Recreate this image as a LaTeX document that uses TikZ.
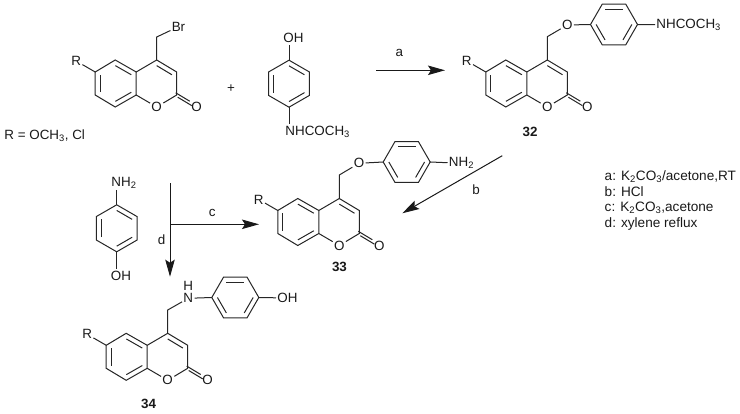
\documentclass[tikz,border=0pt]{standalone}
\usepackage{fontspec}
\setmainfont{Liberation Sans}
\usetikzlibrary{arrows.meta,calc}

\tikzset{
    bond/.style={line width=1pt, black!85},
    atom/.style={inner sep=1.2pt, text=black!90, font=\fontsize{13.4}{15}\selectfont},
    legendtext/.style={inner sep=0pt, anchor=west, text=black!90, font=\fontsize{13.6}{15}\selectfont},
    cmpd/.style={inner sep=1pt, text=black!90, font=\fontsize{13.4}{15}\selectfont\bfseries},
    rxn/.style={line width=1pt, black!90, -{Stealth[length=17pt,width=9.5pt,inset=3pt]}}
}

% benzene ring: name, centre x, centre y, start angle
\newcommand{\phring}[4]{
    \coordinate (#1c) at (#2,#3);
    \foreach \i in {1,...,6}
        \coordinate (#1\i) at ($(#1c)+({#4+60*\i}:23.5)$);
    \draw[bond] (#11) -- (#12) -- (#13) -- (#14) -- (#15) -- (#16) -- cycle;
    % inner lines
    \foreach \a/\b in {1/2, 3/4, 5/6}
        \draw[bond] ($(#1\a)!.24!(#1c)$) -- ($(#1\b)!.24!(#1c)$);
}

% coumarin skeleton, placed by its C4
\newcommand{\coumarin}[3]{
    \begin{scope}[shift={(#2,#3)}]
        \coordinate (#1cf) at (0,0);
        \coordinate (#1cc) at (20,12);
        \coordinate (#1cb) at (20,35);
        \coordinate (#1ca) at (-20.5,12);
        \coordinate (#1cd) at (-20.5,35);
        \coordinate (#1ce) at (-41.5,47);
        \coordinate (#1cg) at (-61.5,35);
        \coordinate (#1ch) at (-61.5,12);
        \coordinate (#1ci) at (-41.5,0);
        \coordinate (#1bz) at (-41,23.5);
        \coordinate (#1py) at (0,23.5);
        \node[atom] (#1o) at (0,47) {O};
        \node[atom] (#1oc) at (40,47) {O};
        \node[atom] (#1r) at (-80.5,1) {R};
    \end{scope}
    \draw[bond] (#1cf) -- (#1cc) -- (#1cb) -- (#1o) -- (#1cd) -- (#1ca) -- (#1cf);
    \draw[bond] (#1cd) -- (#1ce) -- (#1cg) -- (#1ch) -- (#1ci) -- (#1ca);
    \draw[bond] (#1ch) -- (#1r);
    % inner lines
    \foreach \a/\b/\c in {cg/ch/bz, ci/ca/bz, ce/cd/bz, cf/cc/py}
        \draw[bond] ($(#1\a)!.24!(#1\c)$) -- ($(#1\b)!.24!(#1\c)$);
    % carbonyl
    \draw[bond] ($(#1cb)+(-1,-2.2)$) -- ($(#1oc.center)!.3!(#1cb)+(-1,-2.2)$);
    \draw[bond] ($(#1cb)+(1,2.2)$) -- ($(#1oc.center)!.3!(#1cb)+(1,2.2)$);
}

\begin{document}
\begin{tikzpicture}[x=1pt,y=-1pt]
    \path[use as bounding box] (0,0) rectangle (740,414);

    % Bromomethyl coumarin
    \coumarin{br}{156.7}{60}
    \coordinate (brm) at (156.7,37);
    \node[atom] (brx) at (178.5,26.7) {Br};
    \draw[bond] (brcf) -- (brm) -- (brx);
    \node[atom, anchor=west] (rdef) at (3,136) {R = OCH\textsubscript{3}, Cl};
    \node[atom] (plus) at (231,88.3) {+};

    % Acetamidophenol
    \phring{aph}{289}{83.7}{90}
    \node[atom] (aphoh) at (293.5,38.3) {OH};
    \node[atom, anchor=west] (aphn) at (284,131.7) {NHCOCH\textsubscript{3}};
    \draw[bond] (aph3) -- (289,45);
    \draw[bond] (aph6) -- (289,124);

    % Compound 32
    \coumarin{e}{547.3}{60}
    \coordinate (em) at (547.3,36.7);
    \node[atom] (eo) at (567.3,25) {O};
    \phring{eph}{614}{24.5}{60}
    \node[atom, anchor=west] (en) at (655,25) {NHCOCH\textsubscript{3}};
    \draw[bond] (ecf) -- (em) -- (eo) -- (eph2);
    \draw[bond] (eph5) -- (en);
    \node[cmpd] (enum) at (530,131.7) {32};

    % Compound 33
    \coumarin{t}{339.3}{198.5}
    \coordinate (tm) at (339.3,175);
    \node[atom] (to) at (359,163.3) {O};
    \phring{tph}{406.7}{162}{60}
    \node[atom, anchor=west] (tn) at (447.5,163.3) {NH\textsubscript{2}};
    \draw[bond] (tcf) -- (tm) -- (to) -- (tph2);
    \draw[bond] (tph5) -- (tn);
    \node[cmpd] (tnum) at (339.5,266.7) {33};

    % Aminophenol
    \phring{amp}{116.7}{228.3}{90}
    \node[atom] (ampn) at (124,183.3) {NH\textsubscript{2}};
    \node[atom] (ampoh) at (121,276) {OH};
    \draw[bond] (amp3) -- (116.7,190);
    \draw[bond] (amp6) -- (116.7,269);

    % Compound 34
    \coumarin{f}{167.7}{333.3}
    \coordinate (fm) at (167.7,310);
    \node[atom] (fn) at (188.3,298.3) {N};
    \node[atom] (fh) at (188.3,286.3) {H};
    \phring{fph}{235.3}{297.5}{60}
    \node[atom, anchor=west] (foh) at (276,298) {OH};
    \draw[bond] (fcf) -- (fm) -- (fn) -- (fph2);
    \draw[bond] (fph5) -- (foh);
    \node[cmpd] (fnum) at (148.7,404) {34};

    % Arrows
    \coordinate (astart) at (376,70.3);
    \coordinate (aend) at (445,70.3);
    \draw[rxn] (astart) -- (aend);
    \node[atom] (alab) at (399.3,53.3) {a};
    \coordinate (bstart) at (502.3,155.7);
    \coordinate (bend) at (402.3,213.3);
    \draw[rxn] (bstart) -- (bend);
    \node[atom] (blab) at (476,189.3) {b};
    \coordinate (dstart) at (170,183.3);
    \coordinate (dend) at (170,276.7);
    \draw[rxn] (dstart) -- (dend);
    \node[atom] (dlab) at (161.7,240) {d};
    \coordinate (cstart) at (170,224.3);
    \coordinate (cend) at (259,224.3);
    \draw[rxn] (cstart) -- (cend);
    \node[atom] (clab) at (212.3,213.3) {c};

    % Conditions
    \node[legendtext] (keya) at (604.5,176.7) {a: K\textsubscript{2}CO\textsubscript{3}/acetone,RT};
    \node[legendtext] (keyb) at (604.5,191.7) {b: HCl};
    \node[legendtext] (keyc) at (604.5,208) {c: K\textsubscript{2}CO\textsubscript{3},acetone};
    \node[legendtext] (keyd) at (604.5,223.5) {d: xylene reflux};
\end{tikzpicture}
\end{document}
